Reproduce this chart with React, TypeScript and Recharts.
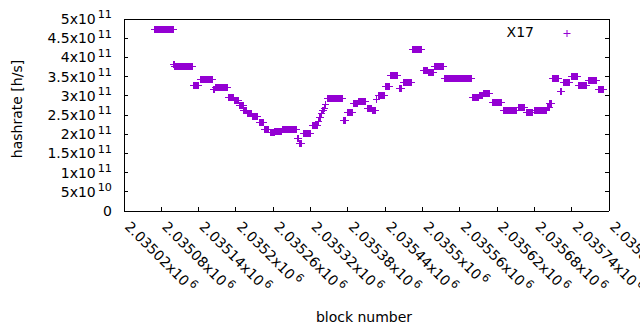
import { ScatterChart, Scatter, XAxis, YAxis, Legend, Label } from "recharts";

// runs of blocks that share the same hashrate estimate
const runStart = [
  2035068, 2035099, 2035101, 2035131, 2035142, 2035163, 2035166, 2035187, 2035197, 2035205,
  2035212, 2035218, 2035226, 2035237, 2035245, 2035255, 2035262, 2035274, 2035298, 2035301,
  2035308, 2035322, 2035332, 2035334, 2035337, 2035339, 2035342, 2035343, 2035346, 2035373,
  2035379, 2035388, 2035396, 2035411, 2035419, 2035426, 2035428, 2035440, 2035448, 2035463,
  2035469, 2035483, 2035501, 2035509, 2035519, 2035535, 2035580, 2035591, 2035597, 2035612,
  2035630, 2035641, 2035654, 2035666, 2035679, 2035700, 2035704, 2035708, 2035721, 2035726,
  2035739, 2035750, 2035766, 2035782,
];
const runEnd = [
  2035098, 2035100, 2035129, 2035139, 2035162, 2035165, 2035186, 2035195, 2035203, 2035211,
  2035216, 2035224, 2035234, 2035244, 2035252, 2035261, 2035272, 2035297, 2035300, 2035305,
  2035319, 2035330, 2035332, 2035335, 2035337, 2035340, 2035342, 2035344, 2035370, 2035375,
  2035387, 2035395, 2035408, 2035418, 2035424, 2035426, 2035438, 2035446, 2035459, 2035465,
  2035482, 2035498, 2035507, 2035517, 2035533, 2035578, 2035589, 2035596, 2035607, 2035626,
  2035639, 2035650, 2035663, 2035676, 2035699, 2035703, 2035707, 2035718, 2035722, 2035736,
  2035748, 2035763, 2035779, 2035790,
];
const runHashrate = [
  4.73e11, 3.83e11, 3.78e11, 3.27e11, 3.43e11, 3.17e11, 3.22e11, 2.97e11, 2.9e11, 2.76e11,
  2.64e11, 2.55e11, 2.47e11, 2.32e11, 2.13e11, 2.07e11, 2.08e11, 2.13e11, 1.9e11, 1.77e11,
  2.03e11, 2.24e11, 2.34e11, 2.45e11, 2.55e11, 2.62e11, 2.68e11, 2.78e11, 2.93e11, 2.37e11,
  2.59e11, 2.8e11, 2.86e11, 2.68e11, 2.63e11, 2.92e11, 3.03e11, 3.26e11, 3.54e11, 3.2e11,
  3.36e11, 4.21e11, 3.66e11, 3.63e11, 3.78e11, 3.46e11, 2.97e11, 3.02e11, 3.07e11, 2.85e11,
  2.64e11, 2.63e11, 2.72e11, 2.59e11, 2.63e11, 2.7e11, 2.8e11, 3.46e11, 3.13e11, 3.35e11,
  3.52e11, 3.29e11, 3.41e11, 3.18e11,
];

const xTicks = [
  2035020, 2035080, 2035140, 2035200, 2035260, 2035320, 2035380, 2035440, 2035500, 2035560,
  2035620, 2035680, 2035740, 2035800,
];
const xTickMantissa = [
  "2.03502", "2.03508", "2.03514", "2.0352", "2.03526", "2.03532", "2.03538", "2.03544",
  "2.0355", "2.03556", "2.03562", "2.03568", "2.03574", "2.0358",
];
const yTicks = [0, 5e10, 1e11, 1.5e11, 2e11, 2.5e11, 3e11, 3.5e11, 4e11, 4.5e11, 5e11];
const yTickMantissa = ["0", "5", "1", "1.5", "2", "2.5", "3", "3.5", "4", "4.5", "5"];
const yTickExponent = ["", "10", "11", "11", "11", "11", "11", "11", "11", "11", "11"];

const FONT = "'DejaVu Sans', sans-serif";
const VIOLET = "#9400d3";

const points: { block: number; hashrate: number }[] = [];
runStart.forEach((start, i) => {
  for (let b = start; b <= runEnd[i]; b++) points.push({ block: b, hashrate: runHashrate[i] });
});

function PlusMark({ cx, cy }: any) {
  const x = Math.round(cx) + 0.5;
  const y = Math.round(cy) + 0.5;
  return (
    <path d={`M${x - 3.5},${y}h7M${x},${y - 3.5}v7`} stroke={VIOLET} strokeWidth={1} fill="none" />
  );
}

function LeftTick({ x, y, payload }: any) {
  const i = yTicks.indexOf(payload.value);
  return (
    <g>
      <line x1={x} x2={x + 4} y1={y} y2={y} stroke="#000" shapeRendering="crispEdges" />
      <text x={x - 12} y={y} dy={5} textAnchor="end" fontFamily={FONT} fontSize={14} fill="#000">
        {yTickMantissa[i]}
        {yTickExponent[i] ? "x10" : ""}
        {yTickExponent[i] ? (
          <tspan dx={2} dy={-5.7} fontSize={11.2}>
            {yTickExponent[i]}
          </tspan>
        ) : null}
      </text>
    </g>
  );
}

function RightTick({ x, y }: any) {
  return <line x1={x - 4} x2={x} y1={y} y2={y} stroke="#000" shapeRendering="crispEdges" />;
}

function BottomTick({ x, y, payload }: any) {
  const i = xTicks.indexOf(payload.value);
  return (
    <g>
      <line x1={x} x2={x} y1={y} y2={y - 4} stroke="#000" shapeRendering="crispEdges" />
      <text
        transform={`translate(${x},${y + 16.5}) rotate(45)`}
        fontFamily={FONT}
        fontSize={14}
        fill="#000"
      >
        {xTickMantissa[i]}x10
        <tspan dx={2} dy={-5.7} fontSize={11.2}>
          6
        </tspan>
      </text>
    </g>
  );
}

function TopTick({ x, y }: any) {
  return <line x1={x} x2={x} y1={y} y2={y + 4} stroke="#000" shapeRendering="crispEdges" />;
}

function KeyBox({ payload }: any) {
  const item = payload && payload[0];
  return (
    <svg width={640} height={50} style={{ display: "block" }}>
      <text x={534} y={37} textAnchor="end" fontFamily={FONT} fontSize={14} fill="#000">
        {item ? item.value : "X17"}
      </text>
      <path d="M563.5,33.5h7M567,30v7" stroke={VIOLET} strokeWidth={1} fill="none" />
    </svg>
  );
}

const frame = { stroke: "#000", shapeRendering: "crispEdges" };

export default function App() {
  return (
    <div style={{ position: "absolute", left: 0, top: 0, background: "#fff" }}>
      <ScatterChart width={640} height={330} margin={{ top: 0, right: 0, bottom: 0, left: 0 }}>
        <XAxis
          dataKey="block"
          type="number"
          domain={[2035020, 2035800]}
          ticks={xTicks}
          interval={0}
          allowDataOverflow
          height={119}
          tickSize={0}
          tickLine={false}
          tickMargin={0}
          axisLine={frame}
          tick={<BottomTick />}
        >
          <Label
            content={({ viewBox }: any) => (
              <text
                x={viewBox.x + viewBox.width / 2 - 2.5}
                y={viewBox.y + viewBox.height - 8.5}
                textAnchor="middle"
                fontFamily={FONT}
                fontSize={14}
                fill="#000"
              >
                block number
              </text>
            )}
          />
        </XAxis>
        <XAxis
          xAxisId="top"
          orientation="top"
          type="number"
          domain={[2035020, 2035800]}
          ticks={xTicks}
          interval={0}
          allowDataOverflow
          height={19}
          tickSize={0}
          tickLine={false}
          tickMargin={0}
          axisLine={frame}
          tick={<TopTick />}
        />
        <YAxis
          dataKey="hashrate"
          type="number"
          domain={[0, 5e11]}
          ticks={yTicks}
          interval={0}
          allowDataOverflow
          width={124}
          tickSize={0}
          tickLine={false}
          tickMargin={0}
          axisLine={frame}
          tick={<LeftTick />}
        >
          <Label
            content={({ viewBox }: any) => {
              const cx = viewBox.x + 17;
              const cy = viewBox.y + viewBox.height / 2 - 6;
              return (
                <text
                  transform={`translate(${cx},${cy}) rotate(-90)`}
                  textAnchor="middle"
                  dy={5}
                  fontFamily={FONT}
                  fontSize={14}
                  fill="#000"
                >
                  hashrate [h/s]
                </text>
              );
            }}
          />
        </YAxis>
        <YAxis
          yAxisId="right"
          orientation="right"
          type="number"
          domain={[0, 5e11]}
          ticks={yTicks}
          interval={0}
          allowDataOverflow
          width={31}
          tickSize={0}
          tickLine={false}
          tickMargin={0}
          axisLine={frame}
          tick={<RightTick />}
        />
        <Legend
          layout="vertical"
          align="center"
          verticalAlign="middle"
          wrapperStyle={{ position: "absolute", left: 0, top: 0, width: 640, height: 50 }}
          content={<KeyBox />}
        />
        <Scatter
          name="X17"
          data={points}
          fill={VIOLET}
          shape={<PlusMark />}
          isAnimationActive={false}
        />
      </ScatterChart>
    </div>
  );
}
